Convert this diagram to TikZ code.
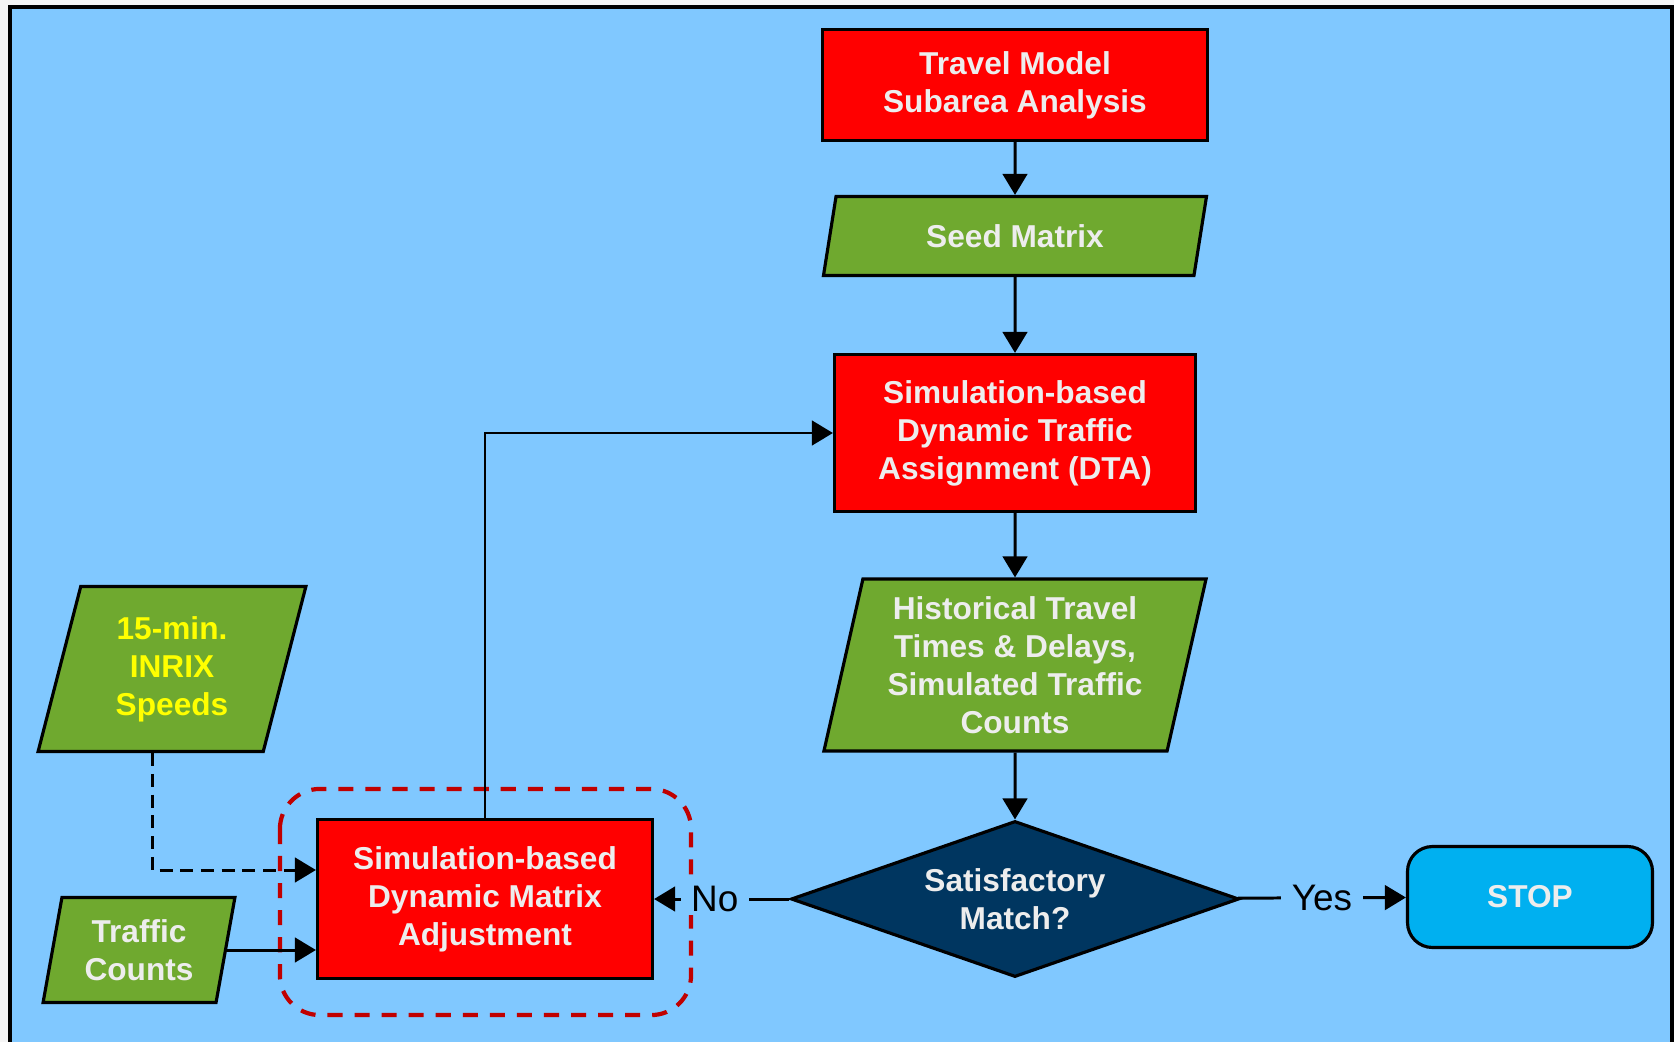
\documentclass[tikz,border=0pt]{standalone}
\usepackage{fontspec}
\setmainfont{Liberation Sans}
\usetikzlibrary{shapes.geometric, arrows.meta}

\definecolor{bgblue}{HTML}{80C8FF}
\definecolor{boxred}{HTML}{FF0000}
\definecolor{datagreen}{HTML}{6FA92F}
\definecolor{navy}{HTML}{003660}
\definecolor{stopcyan}{HTML}{00B0F0}
\definecolor{dashred}{HTML}{C00000}
\definecolor{txtgray}{HTML}{EDEDED}
\definecolor{inrixyellow}{HTML}{FFFF00}

\begin{document}
\begin{tikzpicture}[>={Triangle[length=6pt, width=7pt]}, line width=0.85pt,
    every node/.style={font=\fontsize{9}{10.8}\selectfont\bfseries, text=txtgray, align=center},
    process/.style={draw, rectangle, fill=boxred, line width=0.9pt, inner sep=0},
    io/.style={draw, trapezium, trapezium stretches=true, fill=datagreen, line width=0.9pt, inner sep=0},
    decision/.style={draw, diamond, aspect=2.87, fill=navy, line width=0.9pt, inner sep=0},
    stopbox/.style={draw, rectangle, rounded corners=0.25cm, fill=stopcyan, line width=0.9pt},
    lbl/.style={font=\fontsize{10.5}{12}\selectfont\mdseries, text=black, fill=bgblue, inner xsep=3pt, inner ysep=1pt}]
                % Background
                \useasboundingbox (0, 0) rectangle (16.74, -10.42);
                \fill[gray!8] (0, 0) rectangle (16.74, -10.42);
                \draw[line width=1pt, fill=bgblue] (0.10, -0.07) rectangle (16.72, -10.60);

                % Nodes
                \node[process, minimum width=3.85cm, minimum height=1.11cm] at (10.15, -0.85) (travel) {Travel Model\\Subarea Analysis};
                \node[io, trapezium left angle=75, trapezium right angle=105, minimum width=3.85cm, minimum height=0.79cm] at (10.15, -2.36) (seed) {Seed Matrix};
                \node[process, minimum width=3.61cm, minimum height=1.57cm] at (10.15, -4.33) (dta) {Simulation-based\\Dynamic Traffic\\Assignment (DTA)};
                \node[io, trapezium left angle=76.6, trapezium right angle=103.4, minimum width=3.85cm, minimum height=1.72cm] at (10.15, -6.65) (hist) {Historical Travel\\Times \& Delays,\\Simulated Traffic\\Counts};
                \node[decision, minimum width=4.48cm, minimum height=1.56cm] at (10.15, -8.99) (match) {Satisfactory\\Match?};
                \node[stopbox, minimum width=2.45cm, minimum height=1.01cm] at (15.30, -8.97) (stop) {STOP};
                \node[process, minimum width=3.35cm, minimum height=1.59cm] at (4.85, -8.99) (dma) {Simulation-based\\Dynamic Matrix\\Adjustment};
                \node[io, text=inrixyellow, trapezium left angle=76, trapezium right angle=104, minimum width=2.69cm, minimum height=1.65cm] at (1.72, -6.69) (inrix) {15-min.\\INRIX\\Speeds};
                \node[io, trapezium left angle=77.7, trapezium right angle=102.3, minimum width=1.92cm, minimum height=1.05cm] at (1.39, -9.50) (counts) {Traffic\\Counts};

                % Group
                \draw[dashred, line width=1.2pt, dash pattern=on 4.3pt off 3.4pt, rounded corners=0.4cm]
                    ([shift={(-0.36, 0.29)}]dma.north west) rectangle ([shift={(0.37, -0.35)}]dma.south east);

                % Edges
                \draw[->] (travel) -- (seed);
                \draw[->] (seed) -- (dta);
                \draw[->] (dta) -- (hist);
                \draw[->] (hist) -- (match);

                \draw[->] (match) -- (stop)
                    node[lbl, midway] {Yes};

                \draw[->] (match) -- (dma)
                    node[lbl, midway, xshift=-2pt] {No};

                \draw[->] (dma.north) |- (dta.west);

                \draw[->, dash pattern=on 3.7pt off 2.2pt] ([xshift=-0.2cm]inrix.south) |- ([yshift=0.29cm]dma.west);

                \draw[->] (counts.east) -- (counts.east -| dma.west);
            \end{tikzpicture}
\end{document}
